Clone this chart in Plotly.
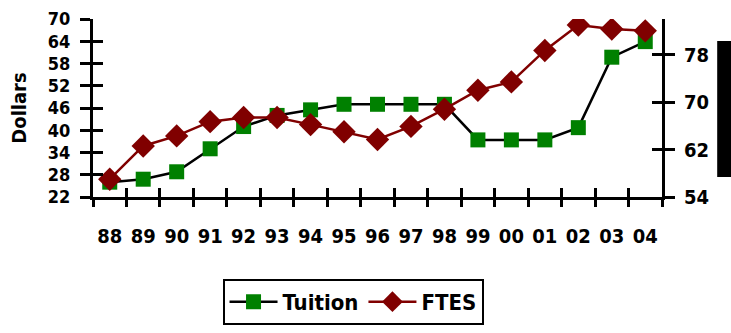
import plotly.graph_objects as go

# Fiscal years (two-digit labels)
years = ["88", "89", "90", "91", "92", "93", "94", "95", "96", "97",
         "98", "99", "00", "01", "02", "03", "04"]

# Tuition in dollars (left axis)
tuition = [26, 26.8, 28.8, 35, 41, 44, 45.5, 47, 47, 47,
           47, 37.4, 37.4, 37.4, 40.7, 59.7, 63.9]

# Full-time equivalent students (right axis)
ftes = [57.0, 62.6, 64.3, 66.7, 67.4, 67.4, 66.2, 65.0, 63.7, 65.9,
        68.8, 72.0, 73.4, 78.7, 83.0, 82.3, 82.0]

left_ticks = [22, 28, 34, 40, 46, 52, 58, 64, 70]
right_ticks = [54, 62, 70, 78]

FONT = "DejaVu Sans Condensed, Liberation Sans Narrow, sans-serif"
n = len(years)
boundaries = [i - 0.5 for i in range(n + 1)]


def bold(size):
    return dict(family=FONT, size=size, color="black", weight=700)


fig = go.Figure()

fig.add_trace(go.Scatter(
    x=years, y=tuition, name="Tuition", mode="lines+markers",
    line=dict(color="black", width=2.5),
    marker=dict(symbol="square", size=15, color="#008000"),
    xaxis="x", yaxis="y",
))
fig.add_trace(go.Scatter(
    x=years, y=ftes, name="FTES", mode="lines+markers",
    line=dict(color="#800000", width=2.5),
    marker=dict(symbol="diamond", size=18, color="#800000"),
    xaxis="x", yaxis="y2",
))

# empty traces so the overlay axes carrying the inner tick halves get drawn
for xa, ya in [("x2", "y3"), ("x3", "y4")]:
    fig.add_trace(go.Scatter(x=[None], y=[None], xaxis=xa, yaxis=ya,
                             showlegend=False, hoverinfo="skip"))

fig.update_layout(
    width=731, height=333,
    margin=dict(l=93, r=69, t=19, b=136, autoexpand=False),
    paper_bgcolor="white", plot_bgcolor="white",
    font=bold(18),
    showlegend=True,
    legend=dict(
        orientation="h", x=0.457, xanchor="center", y=-0.46, yanchor="top",
        bordercolor="black", borderwidth=2,
        font=bold(22),
        itemwidth=48,
    ),
    xaxis=dict(
        type="category", range=[-0.5, n - 0.5],
        showline=True, linecolor="black", linewidth=3,
        ticks="", tickfont=bold(20), showgrid=False, zeroline=False,
        ticklabelstandoff=19,
    ),
    xaxis2=dict(
        overlaying="x", anchor="y3", range=[-0.5, n - 0.5],
        tickvals=boundaries, showticklabels=False,
        ticks="outside", ticklen=9, tickwidth=3, tickcolor="black",
        showline=False, showgrid=False, zeroline=False,
    ),
    xaxis3=dict(
        overlaying="x", anchor="y3", range=[-0.5, n - 0.5],
        tickvals=boundaries, showticklabels=False,
        ticks="inside", ticklen=9, tickwidth=3, tickcolor="black",
        showline=False, showgrid=False, zeroline=False,
    ),
    yaxis=dict(
        range=[22, 70], tickvals=left_ticks,
        showline=True, linecolor="black", linewidth=3,
        ticks="outside", ticklen=10, tickwidth=3, tickcolor="black",
        tickfont=bold(18), showgrid=False, zeroline=False,
        ticklabelstandoff=6,
        title=dict(text="Dollars", font=bold(20), standoff=16),
    ),
    yaxis2=dict(
        overlaying="y", side="right", anchor="x", range=[54, 84],
        tickvals=right_ticks,
        showline=True, linecolor="black", linewidth=3,
        ticks="outside", ticklen=10, tickwidth=3, tickcolor="black",
        tickfont=bold(20), showgrid=False, zeroline=False,
        ticklabelstandoff=5,
    ),
    yaxis3=dict(
        overlaying="y", side="left", range=[22, 70], tickvals=left_ticks,
        ticks="inside", ticklen=10, tickwidth=3, tickcolor="black",
        showticklabels=False, showline=False, showgrid=False, zeroline=False,
    ),
    yaxis4=dict(
        overlaying="y", side="right", range=[54, 84], tickvals=right_ticks,
        ticks="inside", ticklen=10, tickwidth=3, tickcolor="black",
        showticklabels=False, showline=False, showgrid=False, zeroline=False,
    ),
    shapes=[dict(
        type="rect", xref="paper", yref="paper",
        x0=1.097, x1=1.13, y0=0.112, y1=0.876,
        fillcolor="black", line=dict(width=0),
    )],
)

fig.write_html("out.html")
